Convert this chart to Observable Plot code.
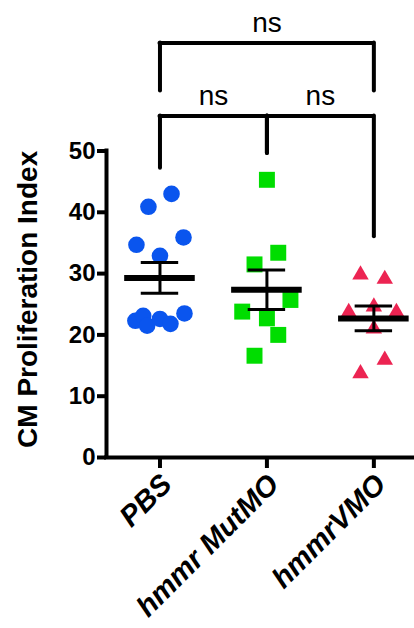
<!DOCTYPE html>
<html>
<head>
<meta charset="utf-8">
<script src="https://cdn.jsdelivr.net/npm/d3@7"></script>
<script src="https://cdn.jsdelivr.net/npm/@observablehq/plot@0.6"></script>
<style>
  html, body { margin: 0; padding: 0; background: #fff; }
  #chart svg { display: block; }
</style>
</head>
<body>
<div id="chart"></div>
<script>
// ---- Data ----
const categories = ["PBS", "hmmr MutMO", "hmmrVMO"];
const pbsValues = [43.0, 40.9, 35.9, 34.7, 32.9, 22.3, 23.1, 21.5, 22.6, 21.8, 23.5];
const mutValues = [45.3, 33.4, 31.5, 25.7, 23.8, 22.7, 20.0, 16.6];
const vmoValues = [29.8, 29.1, 24.6, 23.7, 23.7, 21.0, 15.9, 13.7];
// horizontal scatter offsets of each point within its column (category units)
const pbsJitter = [0.108, -0.108, 0.22, -0.22, 0, -0.23, -0.157, -0.12, 0, 0.098, 0.229];
const mutJitter = [0, 0.106, -0.116, 0.22, -0.231, 0, 0.106, -0.116];
const vmoJitter = [-0.125, 0.102, 0, -0.235, 0.211, 0, 0.102, -0.125];
const yTicks = [0, 10, 20, 30, 40, 50];
const yTitle = "CM Proliferation Index";
// significance brackets: from/to category index, bracket level, drop ends
const comparisons = [
  {from: 0, to: 2, level: 67.6, dropFrom: 59.8, dropTo: 59.8, label: "ns"},
  {from: 0, to: 1, level: 55.7, dropFrom: 47.2, dropTo: 49.6, label: "ns"},
  {from: 1, to: 2, level: 55.7, dropFrom: 49.6, dropTo: 36.0, label: "ns"}
];

// ---- Styles / layout constants ----
const colors = ["#0a55ee", "#00dd00", "#ec2452"];
const symbols = ["circle", "square", "triangle"];
const radii = [8.3, 9.0, 6.1];
const xDomain = [0.5, 3.38];
const meanHalf = 0.33, capHalf = 0.175;
const font = "'Liberation Sans', Arial, Helvetica, sans-serif";

const valueSets = [pbsValues, mutValues, vmoValues];
const jitterSets = [pbsJitter, mutJitter, vmoJitter];

const points = [];
valueSets.forEach((vals, g) => vals.forEach((v, i) => points.push({g, cat: categories[g], value: v, jit: jitterSets[g][i]})));

const stats = valueSets.map((vals, g) => {
  const m = d3.mean(vals);
  const sem = d3.deviation(vals) / Math.sqrt(vals.length);
  return {g, mean: m, lo: m - sem, hi: m + sem};
});

const drops = comparisons.flatMap(c => [
  {x: c.from + 1, y1: c.dropFrom, y2: c.level},
  {x: c.to + 1, y1: c.dropTo, y2: c.level}
]);

const dotMarks = [0, 1, 2].map(g => Plot.dot(points.filter(p => p.g === g), {
  x: d => d.g + 1 + d.jit,
  y: "value",
  r: radii[g],
  symbol: symbols[g],
  fill: colors[g],
  stroke: "none"
}));

const chart = Plot.plot({
  width: 414,
  height: 628,
  marginLeft: 106,
  marginRight: 0,
  marginTop: 0,
  marginBottom: 171,
  x: {domain: xDomain, axis: null},
  y: {domain: [0, 74.55], axis: null},
  style: {fontFamily: font, background: "white", color: "black"},
  marks: [
    // axes lines
    Plot.ruleX([xDomain[0]], {y1: 0, y2: d3.max(yTicks), strokeWidth: 4, strokeLinecap: "square"}),
    Plot.ruleY([0], {x1: xDomain[0], x2: xDomain[1], strokeWidth: 4, strokeLinecap: "square"}),
    Plot.axisY(yTicks, {anchor: "left", tickSize: 9, tickPadding: 2, strokeWidth: 4, fontSize: 24, fontWeight: "bold", fontFamily: font, label: null}),
    Plot.axisX([1, 2, 3], {anchor: "bottom", tickSize: 11, strokeWidth: 4, tickFormat: () => "", label: null}),
    Plot.text(categories, {
      x: (d, i) => i + 1, y: () => 0, text: d => d,
      rotate: -45, textAnchor: "end", lineAnchor: "middle",
      dx: 7, dy: 22,
      fontSize: 29, fontWeight: "bold", fontStyle: "italic", fontFamily: font
    }),
    Plot.text([yTitle], {
      x: () => xDomain[0], y: () => d3.mean(d3.extent(yTicks)) + 0.8, text: d => d,
      rotate: -90, dx: -78, fontSize: 28, fontWeight: "bold", fontFamily: font
    }),
    // points
    ...dotMarks,
    // mean and SEM
    Plot.ruleY(stats, {y: "mean", x1: d => d.g + 1 - meanHalf, x2: d => d.g + 1 + meanHalf, strokeWidth: 6}),
    Plot.ruleX(stats, {x: d => d.g + 1, y1: "lo", y2: "hi", strokeWidth: 3}),
    Plot.ruleY(stats, {y: "hi", x1: d => d.g + 1 - capHalf, x2: d => d.g + 1 + capHalf, strokeWidth: 3}),
    Plot.ruleY(stats, {y: "lo", x1: d => d.g + 1 - capHalf, x2: d => d.g + 1 + capHalf, strokeWidth: 3}),
    // significance brackets
    Plot.ruleY(comparisons, {y: "level", x1: d => d.from + 1, x2: d => d.to + 1, strokeWidth: 4, strokeLinecap: "round"}),
    Plot.ruleX(drops, {x: "x", y1: "y1", y2: "y2", strokeWidth: 4, strokeLinecap: "round"}),
    Plot.text(comparisons, {
      x: d => (d.from + d.to) / 2 + 1, y: "level", text: "label",
      lineAnchor: "bottom", dy: -11, fontSize: 28, fontFamily: font
    })
  ]
});

document.getElementById("chart").append(chart);
</script>
</body>
</html>
